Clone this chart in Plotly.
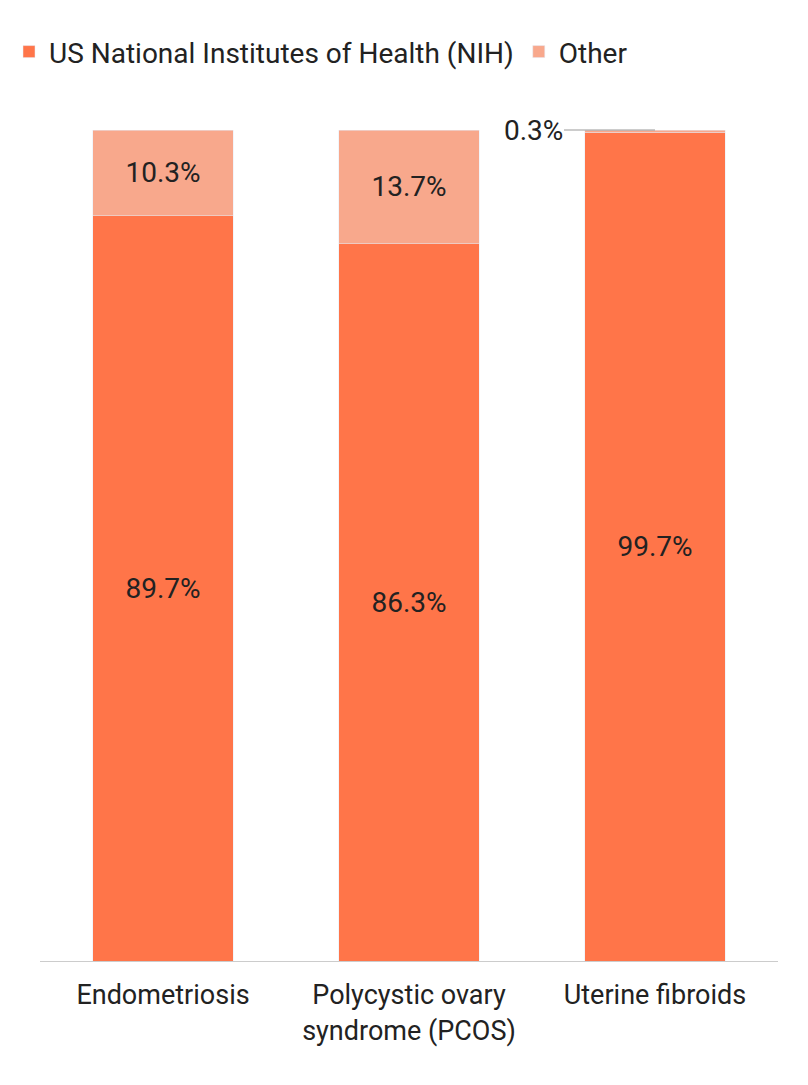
import plotly.graph_objects as go

conditions = ["Endometriosis", "Polycystic ovary<br>syndrome (PCOS)", "Uterine fibroids"]
nih_share = [89.7, 86.3, 99.7]
other_share = [10.3, 13.7, 0.3]

nih_color = "#FF7549"
other_color = "#F8A88C"

def pct(v):
    return f"{v:.1f}%"

fig = go.Figure()
fig.add_trace(go.Bar(
    x=conditions, y=nih_share, name="US National Institutes of Health (NIH)",
    marker_color=nih_color, text=[pct(v) for v in nih_share],
    textposition="inside", insidetextanchor="middle",
    textfont=dict(size=28, color="#222222"),
))
# small "other" slice for fibroids is labelled outside with a leader line
fig.add_trace(go.Bar(
    x=conditions, y=other_share, name="Other",
    marker_color=other_color,
    text=[pct(v) if v > 1 else "" for v in other_share],
    textposition="inside", insidetextanchor="middle",
    textfont=dict(size=28, color="#222222"),
))

fig.add_annotation(
    x=conditions[2], y=nih_share[2] + other_share[2], xref="x", yref="y",
    text=pct(other_share[2]), showarrow=True, arrowhead=0, arrowwidth=1,
    arrowcolor="#999999", ax=-122, ay=0, standoff=0,
    font=dict(size=28, color="#222222"),
)

fig.update_layout(
    barmode="stack", bargap=0.427,
    width=808, height=1085,
    margin=dict(l=32, r=38, t=122, b=132, autoexpand=False),
    paper_bgcolor="white", plot_bgcolor="white",
    font=dict(family="Roboto, Inter, sans-serif", size=28, color="#222222"),
    uniformtext=dict(mode=False),
    legend=dict(orientation="h", x=-0.042, y=1.094, xanchor="left", yanchor="middle",
                font=dict(size=28), traceorder="normal", itemwidth=30),
    showlegend=True,
)
fig.update_xaxes(showline=True, linecolor="#cccccc", linewidth=1,
                 ticks="outside", ticklen=10, tickcolor="rgba(0,0,0,0)",
                 tickfont=dict(size=27), range=[-0.5, 2.5])
fig.update_yaxes(range=[0, 100], showgrid=False, showticklabels=False,
                 zeroline=False, showline=False)

fig.write_html("out.html")
